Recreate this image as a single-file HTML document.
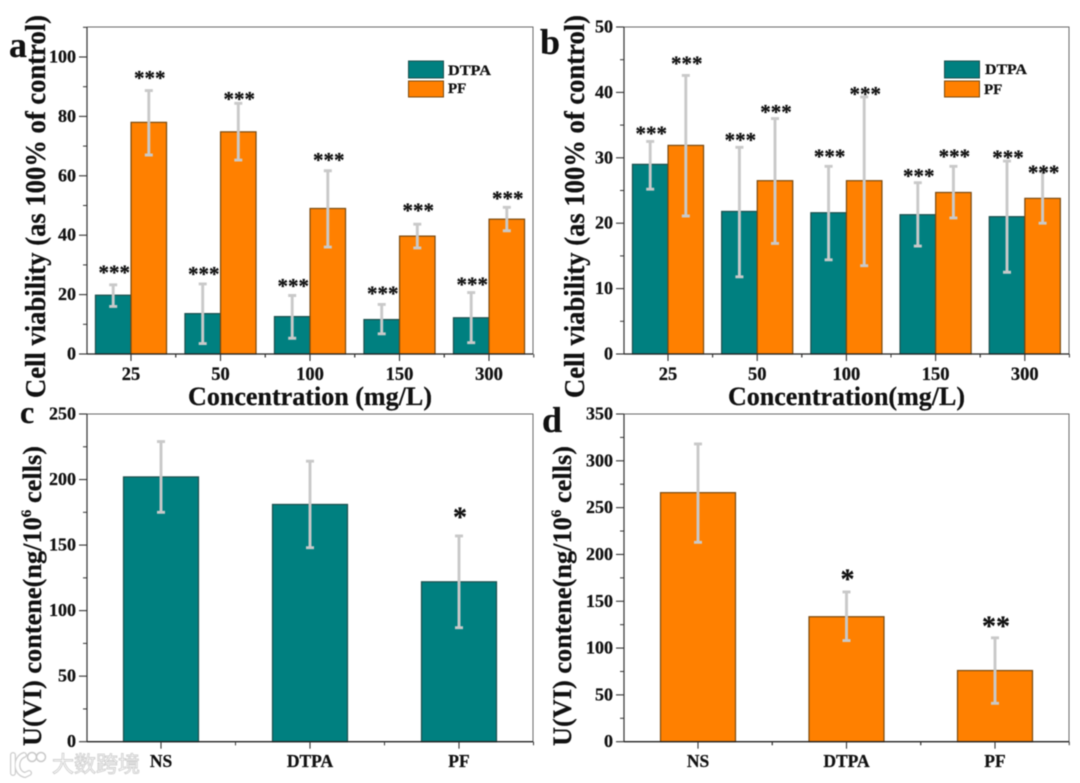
<!DOCTYPE html>
<html lang="en">
<head>
<meta charset="utf-8">
<title>Cell viability and U(VI) content charts</title>
<style>
html,body{margin:0;padding:0;background:#fff;width:1080px;height:783px;overflow:hidden}
svg{display:block;filter:blur(0.45px)}
text{font-family:"Liberation Serif","Noto Serif CJK SC",serif;font-weight:bold;fill:#111;stroke:#111;stroke-width:0.25px}
</style>
</head>
<body>
<svg id="figure" xmlns="http://www.w3.org/2000/svg" width="1080" height="783" viewBox="0 0 1080 783">
  <rect width="1080" height="783" fill="#fff"></rect>
  <g id="plots"></g>

  <text x="9" y="57" font-size="36">a</text>
  <text x="540" y="54" font-size="36">b</text>
  <text x="20" y="423" font-size="32">c</text>
  <text x="542" y="432" font-size="36">d</text>

  <text transform="translate(45,398) rotate(-90)" font-size="28" textLength="383" lengthAdjust="spacingAndGlyphs">Cell viability (as 100% of control)</text>
  <text transform="translate(584,398) rotate(-90)" font-size="28" textLength="383" lengthAdjust="spacingAndGlyphs">Cell viability (as 100% of control)</text>
  <text transform="translate(41,746) rotate(-90)" font-size="26" textLength="300" lengthAdjust="spacingAndGlyphs">U(VI) contene(ng/10<tspan font-size="15" dy="-10">6</tspan><tspan dy="10"> cells)</tspan></text>
  <text transform="translate(571,746) rotate(-90)" font-size="26" textLength="300" lengthAdjust="spacingAndGlyphs">U(VI) contene(ng/10<tspan font-size="15" dy="-10">6</tspan><tspan dy="10"> cells)</tspan></text>

  <text x="188" y="405" font-size="26" textLength="244" lengthAdjust="spacingAndGlyphs">Concentration (mg/L)</text>
  <text x="728" y="405" font-size="26" textLength="237" lengthAdjust="spacingAndGlyphs">Concentration(mg/L)</text>

  <g>
    <rect x="408.500" y="61" width="35" height="17" fill="#008080" stroke="#1d4f4d" stroke-width="1"></rect>
    <rect x="408.500" y="81" width="35" height="16" fill="#ff8000" stroke="#7a4a10" stroke-width="1"></rect>
    <text x="448" y="75" font-size="15" textLength="43" lengthAdjust="spacingAndGlyphs">DTPA</text>
    <text x="448" y="93" font-size="15">PF</text>
  </g>
  <g>
    <rect x="944.500" y="61" width="35" height="17" fill="#008080" stroke="#1d4f4d" stroke-width="1"></rect>
    <rect x="944.500" y="81" width="35" height="16" fill="#ff8000" stroke="#7a4a10" stroke-width="1"></rect>
    <text x="985" y="74" font-size="15" textLength="42" lengthAdjust="spacingAndGlyphs">DTPA</text>
    <text x="984" y="94" font-size="15">PF</text>
  </g>

  <g>
    <path d="M13 755 L13 773 M24 755 C15 758 15 773 25 775 L29 773" fill="none" stroke="#cdcdcd" stroke-width="6" stroke-linecap="round"></path>
    <path d="M13 755 L13 773 M24 755 C15 758 15 773 25 775 L29 773" fill="none" stroke="#fff" stroke-width="3.500" stroke-linecap="round"></path>
    <circle cx="32" cy="757" r="4.500" fill="#fff" stroke="#c8c8c8" stroke-width="1.500"></circle>
    <circle cx="41" cy="757" r="4.500" fill="#fff" stroke="#c8c8c8" stroke-width="1.500"></circle>
    <text x="52" y="772" font-size="22" textLength="88" style="fill:#fff;stroke:#d0d0d0;stroke-width:0.9px;font-family:'Liberation Sans','Noto Sans CJK SC',sans-serif;font-weight:normal">大数跨境</text>
  </g>
</svg>
<script>
// ---------- Panel a data ----------
const categoriesA = ['25', '50', '100', '150', '300'];
const dtpaValuesA = [19.8, 13.6, 12.6, 11.6, 12.2];
const dtpaHighA = [23.3, 23.6, 19.7, 16.7, 20.7];
const dtpaLowA = [16, 3.5, 5.3, 6.8, 3.8];
const dtpaMarksA = ['***', '***', '***', '***', '***'];
const dtpaMarkLevelA = [28, 27.5, 23.5, 21, 24];
const pfValuesA = [78, 74.8, 49, 39.7, 45.4];
const pfHighA = [88.7, 84.4, 61.7, 43.7, 49.4];
const pfLowA = [67, 65.3, 36, 35.7, 41.5];
const pfMarksA = ['***', '***', '***', '***', '***'];
const pfMarkLevelA = [93.5, 86.5, 66, 49, 53];
const yTicksA = [0, 20, 40, 60, 80, 100];

// ---------- Panel b data ----------
const categoriesB = ['25', '50', '100', '150', '300'];
const dtpaValuesB = [29, 21.8, 21.6, 21.3, 21];
const dtpaHighB = [32.5, 31.6, 28.7, 26.2, 29.5];
const dtpaLowB = [25.2, 11.8, 14.4, 16.5, 12.5];
const dtpaMarksB = ['***', '***', '***', '***', '***'];
const dtpaMarkLevelB = [34, 33, 30.5, 27.5, 30.3];
const pfValuesB = [31.9, 26.5, 26.5, 24.7, 23.8];
const pfHighB = [42.6, 36, 39.3, 28.7, 27.9];
const pfLowB = [21.1, 16.9, 13.5, 20.8, 20];
const pfMarksB = ['***', '***', '***', '***', '***'];
const pfMarkLevelB = [44.7, 37.3, 40, 30.5, 28];
const yTicksB = [0, 10, 20, 30, 40, 50];

// ---------- Panel c data ----------
const categoriesC = ['NS', 'DTPA', 'PF'];
const valuesC = [202, 181, 122];
const highC = [229, 214, 157];
const lowC = [175, 148, 87];
const marksC = ['', '', '*'];
const markLevelC = [0, 0, 173];
const yTicksC = [0, 50, 100, 150, 200, 250];

// ---------- Panel d data ----------
const categoriesD = ['NS', 'DTPA', 'PF'];
const valuesD = [266, 133.5, 76];
const highD = [318, 160, 111];
const lowD = [213, 108, 41];
const marksD = ['', '*', '**'];
const markLevelD = [0, 176, 126];
const yTicksD = [0, 50, 100, 150, 200, 250, 300, 350];

const NS = 'http://www.w3.org/2000/svg';
const plots = document.getElementById('plots');
function mk(tag, attrs, parent) {
  const node = document.createElementNS(NS, tag);
  for (const key in attrs) node.setAttribute(key, attrs[key]);
  parent.appendChild(node);
  return node;
}

function drawPanel(p) {
  const g = mk('g', {}, plots);
  
  

  const yOf = v => p.yPlotZero - v * (p.yPlotZero - p.yRefPx) / p.yRefVal;
  const n = p.categories.length;
  const xOf = i => p.xFirst + i * p.xStep;
  const yMinorStep = p.yTicks[1] - p.yTicks[0];

  // bars and error bars
  p.series.forEach(s => {
    s.values.forEach((v, i) => {
      const cx = xOf(i) + s.offset;
      const bar = mk('rect', {
        x: cx - p.barW / 2, y: yOf(v), width: p.barW, height: yOf(0) - yOf(v),
        fill: s.fill, stroke: s.stroke, 'stroke-width': 1.2
      }, g);
      
      
    });
  });
  p.series.forEach(s => {
    s.values.forEach((v, i) => {
      const cx = xOf(i) + s.offset;
      const err = mk('path', {
        d: 'M' + cx + ' ' + yOf(s.high[i]) + 'V' + yOf(s.low[i]) +
           'M' + (cx - 4) + ' ' + yOf(s.high[i]) + 'H' + (cx + 4) +
           'M' + (cx - 4) + ' ' + yOf(s.low[i]) + 'H' + (cx + 4),
        fill: 'none', stroke: '#c9c9c9', 'stroke-width': 2.9
      }, g);
      
      
      if (s.marks[i]) {
        const star = mk('text', {
          x: cx + 1, y: yOf(s.markLevel[i]) + p.markSize * 0.42, 'text-anchor': 'middle',
          'font-size': p.markSize
        }, g);
        star.textContent = s.marks[i];
        
        
      }
    });
  });

  // frame
  const topRight = mk('path', {
    d: 'M' + p.left + ' ' + p.top + 'H' + p.right + 'V' + yOf(0),
    fill: 'none', stroke: '#6a6a6a', 'stroke-width': 1
  }, g);
  
  
  const yAxis = mk('line', { x1: p.left, x2: p.left, y1: p.top, y2: yOf(0), stroke: '#333', 'stroke-width': 1.2 }, g);
  
  
  const xAxis = mk('line', { x1: p.left, x2: p.right, y1: yOf(0), y2: yOf(0), stroke: '#222', 'stroke-width': 1.3 }, g);
  
  

  // y ticks
  p.yTicks.forEach((t, i) => {
    const y = yOf(t);
    const tick = mk('line', { x1: p.left - 8, x2: p.left, y1: y, y2: y, stroke: '#333', 'stroke-width': 1.1 }, g);
    
    
    const label = mk('text', { x: p.left - 11, y: y + 5.5, 'text-anchor': 'end', 'font-size': 18 }, g);
    label.textContent = t;
    
    
    const minorV = t + yMinorStep / 2;
    if (yOf(minorV) > p.top) {
      const minor = mk('line', { x1: p.left - 4, x2: p.left, y1: yOf(minorV), y2: yOf(minorV), stroke: '#333', 'stroke-width': 1 }, g);
      
      
    }
  });

  // x ticks
  p.categories.forEach((c, i) => {
    const x = xOf(i);
    const tick = mk('line', { x1: x, x2: x, y1: yOf(0), y2: yOf(0) + 7, stroke: '#333', 'stroke-width': 1.1 }, g);
    
    
    const label = mk('text', { x: x, y: p.catBaseline, 'text-anchor': 'middle', 'font-size': p.catSize }, g);
    label.textContent = c;
    
    
    if (i < n) {
      [x - p.xStep / 2, x + p.xStep / 2].forEach(mx => {
        if (mx < p.left + 1 || mx > p.right + 1) return;
        const minor = mk('line', { x1: mx, x2: mx, y1: yOf(0), y2: yOf(0) + 3.5, stroke: '#333', 'stroke-width': 1 }, g);
        
        
      });
    }
  });
}

const TEAL = '#008080', TEAL_EDGE = '#1d4f4d', ORANGE = '#ff8000', ORANGE_EDGE = '#7a4a10';

drawPanel({
  id: 'a', categories: categoriesA, yTicks: yTicksA, left: 87, right: 533, top: 27,
  yPlotZero: 354, yRefPx: 57, yRefVal: 100, xFirst: 131, xStep: 89.5, barW: 35.5,
  catBaseline: 380, catSize: 18.5, markSize: 21,
  series: [
    { name: 'dtpa', offset: -17.8, fill: TEAL, stroke: TEAL_EDGE, values: dtpaValuesA, high: dtpaHighA, low: dtpaLowA, marks: dtpaMarksA, markLevel: dtpaMarkLevelA },
    { name: 'pf', offset: 17.8, fill: ORANGE, stroke: ORANGE_EDGE, values: pfValuesA, high: pfHighA, low: pfLowA, marks: pfMarksA, markLevel: pfMarkLevelA }
  ]
});
drawPanel({
  id: 'b', categories: categoriesB, yTicks: yTicksB, left: 624, right: 1069, top: 27,
  yPlotZero: 354, yRefPx: 27, yRefVal: 50, xFirst: 668, xStep: 89.2, barW: 35.5,
  catBaseline: 380, catSize: 18.5, markSize: 21,
  series: [
    { name: 'dtpa', offset: -17.8, fill: TEAL, stroke: TEAL_EDGE, values: dtpaValuesB, high: dtpaHighB, low: dtpaLowB, marks: dtpaMarksB, markLevel: dtpaMarkLevelB },
    { name: 'pf', offset: 17.8, fill: ORANGE, stroke: ORANGE_EDGE, values: pfValuesB, high: pfHighB, low: pfLowB, marks: pfMarksB, markLevel: pfMarkLevelB }
  ]
});
drawPanel({
  id: 'c', categories: categoriesC, yTicks: yTicksC, left: 87, right: 533, top: 414,
  yPlotZero: 741.7, yRefPx: 414, yRefVal: 250, xFirst: 161, xStep: 149, barW: 75,
  catBaseline: 767, catSize: 17.5, markSize: 28,
  series: [
    { name: 'dtpa', offset: 0, fill: TEAL, stroke: TEAL_EDGE, values: valuesC, high: highC, low: lowC, marks: marksC, markLevel: markLevelC }
  ]
});
drawPanel({
  id: 'd', categories: categoriesD, yTicks: yTicksD, left: 624, right: 1069, top: 414,
  yPlotZero: 741.7, yRefPx: 414, yRefVal: 350, xFirst: 698, xStep: 148.5, barW: 75,
  catBaseline: 767, catSize: 17.5, markSize: 28,
  series: [
    { name: 'pf', offset: 0, fill: ORANGE, stroke: ORANGE_EDGE, values: valuesD, high: highD, low: lowD, marks: marksD, markLevel: markLevelD }
  ]
});
</script>
</body>
</html>
